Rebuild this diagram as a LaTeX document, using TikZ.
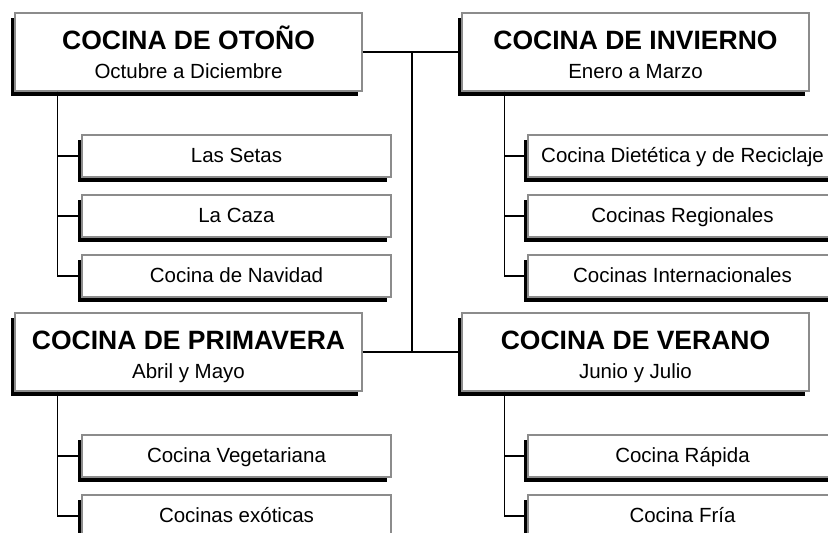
\documentclass[tikz,border=0pt]{standalone}
\usepackage{fontspec}
\setmainfont{Liberation Sans}
\usetikzlibrary{shadows,calc}
\begin{document}
\begin{tikzpicture}[x=1pt,y=-1pt,
  shad/.style={drop shadow={shadow xshift=-4pt,shadow yshift=-4.5pt,fill=black,opacity=1}},
  mainbox/.style={shad,draw=black!45,line width=1.3pt,fill=white,minimum width=347pt,minimum height=78pt,inner sep=0pt},
  subbox/.style={shad,draw=black!45,line width=1.3pt,fill=white,minimum width=309pt,minimum height=42pt,inner sep=0pt,
     font=\fontsize{20.5}{24}\selectfont,text height=17pt,text depth=4pt},
  ttl/.style={anchor=base,inner sep=0pt,font=\fontsize{26.5}{30}\selectfont\bfseries},
  sttl/.style={anchor=base,inner sep=0pt,font=\fontsize{20.5}{24}\selectfont},
  conn/.style={line width=1.4pt,black}]
\useasboundingbox (0,0) rectangle (828,533);
\clip (0,0) rectangle (828,533);

% main boxes
\node[mainbox] (o) at (188.5,52) {};
\node[ttl] (ot) at ([yshift=3pt]o.center) {COCINA DE OTOÑO};
\node[sttl] (os) at ([yshift=-26pt]o.center) {Octubre a Diciembre};

\node[mainbox] (i) at (635.5,52) {};
\node[ttl] (it) at ([yshift=3pt]i.center) {COCINA DE INVIERNO};
\node[sttl] (is) at ([yshift=-26pt]i.center) {Enero a Marzo};

\node[mainbox] (p) at (188.5,352) {};
\node[ttl] (pt) at ([yshift=3pt]p.center) {COCINA DE PRIMAVERA};
\node[sttl] (ps) at ([yshift=-26pt]p.center) {Abril y Mayo};

\node[mainbox] (v) at (635.5,352) {};
\node[ttl] (vt) at ([yshift=3pt]v.center) {COCINA DE VERANO};
\node[sttl] (vs) at ([yshift=-26pt]v.center) {Junio y Julio};

% children
\node[subbox] (o1) at (236.5,156) {Las Setas};
\node[subbox] (o2) at (236.5,216) {La Caza};
\node[subbox] (o3) at (236.5,276) {Cocina de Navidad};

\node[subbox] (i1) at (682.5,156) {Cocina Dietética y de Reciclaje};
\node[subbox] (i2) at (682.5,216) {Cocinas Regionales};
\node[subbox] (i3) at (682.5,276) {Cocinas Internacionales};

\node[subbox] (p1) at (236.5,456) {Cocina Vegetariana};
\node[subbox] (p2) at (236.5,516) {Cocinas exóticas};

\node[subbox] (v1) at (682.5,456) {Cocina Rápida};
\node[subbox] (v2) at (682.5,516) {Cocina Fría};

% central connectors
\coordinate (ctop) at ($(o.east)!0.5!(i.west)$);
\coordinate (cbot) at ($(p.east)!0.5!(v.west)$);
\draw[conn] (o.east) -- (i.west);
\draw[conn] (p.east) -- (v.west);
\draw[conn] (ctop) -- (cbot);

% tree connectors
\coordinate (osp) at ([xshift=43pt]o.south west);
\coordinate (isp) at ([xshift=43pt]i.south west);
\coordinate (psp) at ([xshift=43pt]p.south west);
\coordinate (vsp) at ([xshift=43pt]v.south west);
\foreach \c in {o1,o2,o3} \draw[conn] (osp) |- (\c.west);
\foreach \c in {i1,i2,i3} \draw[conn] (isp) |- (\c.west);
\foreach \c in {p1,p2} \draw[conn] (psp) |- (\c.west);
\foreach \c in {v1,v2} \draw[conn] (vsp) |- (\c.west);
\end{tikzpicture}
\end{document}
